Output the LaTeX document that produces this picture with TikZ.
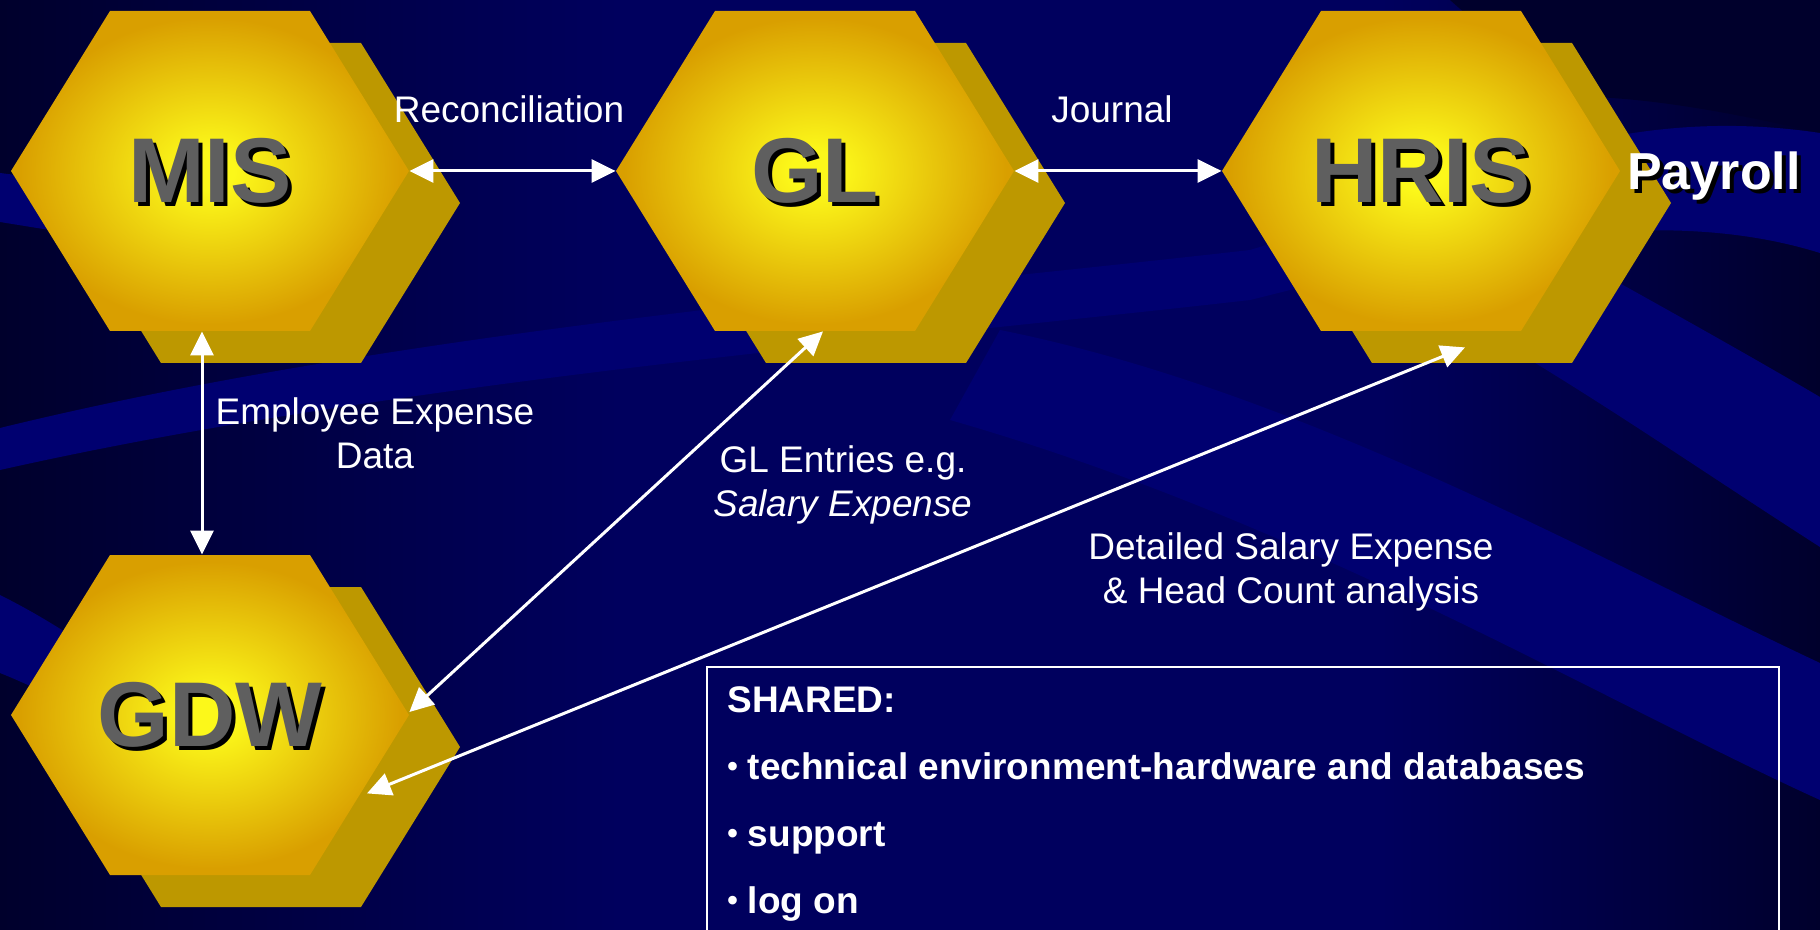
\documentclass[tikz,border=0pt]{standalone}
\usepackage{fontspec}
\setmainfont{Liberation Sans}
\usetikzlibrary{arrows.meta}

\definecolor{bgbase}{HTML}{00005E}
\definecolor{bgdark}{HTML}{00002C}
\definecolor{bglight}{HTML}{000070}
\definecolor{hexcore}{HTML}{FCF81A}
\definecolor{hexrim}{HTML}{D99F00}
\definecolor{hexback}{HTML}{BD9800}
\definecolor{hexink}{HTML}{5F5F5F}

\pgfdeclareradialshading{hexglow}{\pgfpoint{0bp}{0bp}}{%
  color(0bp)=(hexcore); color(3bp)=(hexcore); color(24bp)=(hexrim); color(50bp)=(hexrim)}

% text with a hard drop shadow behind it
\newcommand\castshadow[2]{\rlap{\smash{\hspace{2pt}\raisebox{-2pt}{\color{#1}#2}}}#2}
% small list bullet
\newcommand\listdot{\raisebox{1.1pt}{\fontsize{15pt}{15pt}\selectfont\textbullet}\hspace{5pt}}

\tikzset{
  hexshade/.style={fill=hexback},
  hexbody/.style={shading=hexglow},
  hexlabel/.style={minimum width=199pt, minimum height=160pt, inner sep=0pt,
    text=hexink, font=\fontsize{46pt}{50pt}\selectfont\bfseries},
  flow/.style={draw=white, line width=1.5pt,
    {Triangle[length=12pt,width=11.5pt]}-{Triangle[length=12pt,width=11.5pt]}},
  lbl/.style={text=white, inner sep=0pt, anchor=base,
    font=\fontsize{18.5pt}{22pt}\selectfont},
  sharedbox/.style={draw=white, line width=1pt, inner sep=0pt, anchor=north west},
  sharedtext/.style={text=white, inner sep=0pt, anchor=base west,
    font=\fontsize{18.5pt}{33.5pt}\selectfont\bfseries},
}

% one hexagon block: back plate, glowing face and label node
\newcommand\hexcell[4]{%
  \begin{scope}[shift={(#2,#3)}]
    \fill[hexshade] (-148,32) -- (-49,-128) -- (151,-128) -- (250,32) -- (151,192) -- (-49,192) -- cycle;
    \shade[hexbody] (-199,0) -- (-100,-160) -- (100,-160) -- (199,0) -- (100,160) -- (-100,160) -- cycle;
  \end{scope}
  \node[hexlabel] (#1) at (#2,#3) {\castshadow{black}{#4}};
}

\begin{document}
\begin{tikzpicture}[x=0.5pt,y=-0.5pt]
\useasboundingbox (0,0) rectangle (1820,930);
\clip (0,0) rectangle (1820,930);

% background
\fill[bgbase] (0,0) rectangle (1820,930);
\shade[left color=bgdark, right color=bgbase] (0,0) rectangle (620,930);
\shade[left color=bgbase, right color=bgdark] (1380,0) rectangle (1820,930);
\fill[bgdark] (1450,0) -- (1820,0) -- (1820,133) .. controls (1700,105) and (1620,95) .. (1560,97) -- cycle;
\fill[bglight] (0,173) .. controls (80,183) and (180,200) .. (300,225) -- (300,275) .. controls (180,250) and (80,235) .. (0,222) -- cycle;
\fill[bglight] (0,428) .. controls (400,330) and (900,290) .. (1250,250) .. controls (1450,190) and (1600,100) .. (1820,133)
  -- (1820,253) .. controls (1650,200) and (1450,250) .. (1250,300) .. controls (900,340) and (400,380) .. (0,470) -- cycle;
\fill[bglight] (0,595) .. controls (40,615) and (80,640) .. (120,670) -- (100,720) .. controls (60,700) and (30,685) .. (0,673) -- cycle;
\fill[bglight] (1560,250) .. controls (1650,300) and (1740,350) .. (1820,397) -- (1820,547) .. controls (1700,470) and (1600,400) .. (1480,330) -- cycle;
\fill[bglight] (1000,330) .. controls (1300,390) and (1600,560) .. (1820,663) -- (1820,800) .. controls (1600,700) and (1300,520) .. (950,420) -- cycle;

% systems
\hexcell{mis}{210}{171}{MIS}
\hexcell{gl}{815}{171}{GL}
\hexcell{hris}{1421}{171}{HRIS}
\hexcell{gdw}{210}{715}{GDW}

\node[text=white, inner sep=0pt, anchor=base, font=\fontsize{26pt}{30pt}\selectfont\bfseries]
  (payroll) at (1714,190) {\castshadow{black}{Payroll}};

% data flows
\draw[flow] (mis.east) -- (gl.west);
\draw[flow] (gl.east) -- (hris.west);
\draw[flow] ([xshift=-4pt]mis.south) -- ([xshift=-4pt]gdw.north);
\draw[flow] ([xshift=4pt]gl.south) -- ([yshift=1.5pt]gdw.east);
\draw[flow] ([xshift=22pt,yshift=-8pt]hris.south) -- ([xshift=78.5pt,yshift=41pt]gdw.south);

% flow labels
\node[lbl] (reclbl) at (509,123) {Reconciliation};
\node[lbl] (jrnlbl) at (1112,123) {Journal};
\node[lbl] (emplbl) at (375,424) {\begin{tabular}[t]{@{}c@{}}Employee Expense\\Data\end{tabular}};
\node[lbl] (gllbl) at (843,473) {\begin{tabular}[t]{@{}c@{}}GL Entries e.g.\\\textit{Salary Expense}\end{tabular}};
\node[lbl] (hclbl) at (1291,559) {\begin{tabular}[t]{@{}c@{}}Detailed Salary Expense\\\& Head Count analysis\end{tabular}};

% shared resources
\node[sharedbox, minimum width=536pt, minimum height=150pt] (shared) at (706,666) {};
\node[sharedtext] (sharedlist) at (727,712) {\begin{tabular}[t]{@{}l@{}}SHARED:\\%
  \listdot technical environment-hardware and databases\\%
  \listdot support\\%
  \listdot log on\end{tabular}};
\end{tikzpicture}
\end{document}
